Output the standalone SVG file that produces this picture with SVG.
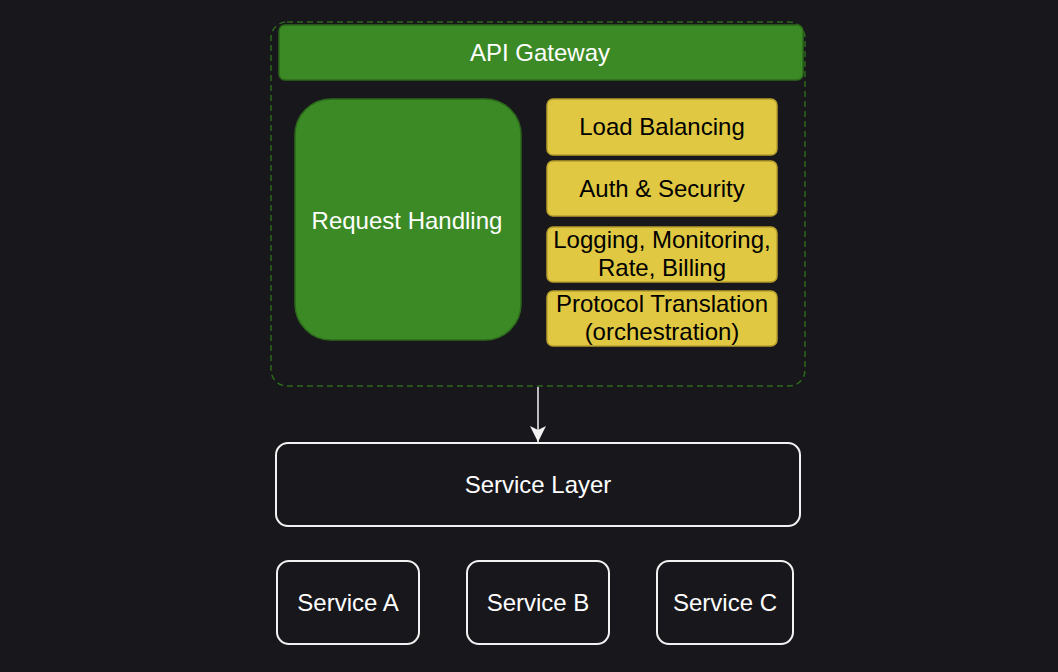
<svg xmlns="http://www.w3.org/2000/svg" width="1058" height="672" viewBox="0 0 1058 672">
<defs>
<style>
.t{font-family:"Liberation Sans",Arial,sans-serif;font-size:24px;text-anchor:middle}
.w{fill:#ffffff}
.k{fill:#000000}
.green{fill:#3c8a25;stroke:#2c6a1b;stroke-width:1.5}
.yel{fill:#e0c843;stroke:#b89e2c;stroke-width:1.5}
.box{fill:none;stroke:#f2f2f2;stroke-width:2}
</style>
<marker id="arr" markerWidth="20" markerHeight="20" viewBox="0 0 20 20" refX="18" refY="10" orient="auto" markerUnits="userSpaceOnUse">
<path d="M2,2 L6,10 L2,18 L18,10 Z" fill="#f2f2f2"/>
</marker>
</defs>
<rect width="1058" height="672" fill="#18171c"/>
<g id="gateway-container">
<rect x="271" y="22" width="534" height="364" rx="16" fill="none" stroke="#2c6a1b" stroke-width="1.5" stroke-dasharray="6 4"/>
</g>
<g id="api-gateway">
<rect class="green" x="279" y="25" width="524" height="55" rx="6"/>
<text class="t w" x="540" y="61">API Gateway</text>
</g>
<g id="request-handling">
<rect class="green" x="295" y="99" width="226" height="241" rx="36"/>
<text class="t w" x="407" y="229">Request Handling</text>
</g>
<g id="load-balancing">
<rect class="yel" x="547" y="99" width="230" height="56" rx="6"/>
<text class="t k" x="662" y="135">Load Balancing</text>
</g>
<g id="auth-security">
<rect class="yel" x="547" y="161" width="230" height="55" rx="6"/>
<text class="t k" x="662" y="197">Auth &amp; Security</text>
</g>
<g id="logging">
<rect class="yel" x="547" y="227" width="230" height="55" rx="6"/>
<text class="t k" x="662" y="248">Logging, Monitoring,</text>
<text class="t k" x="662" y="276">Rate, Billing</text>
</g>
<g id="protocol">
<rect class="yel" x="547" y="291" width="230" height="55" rx="6"/>
<text class="t k" x="662" y="312">Protocol Translation</text>
<text class="t k" x="662" y="340">(orchestration)</text>
</g>
<g id="connectors">
<line x1="538" y1="387" x2="538" y2="442" stroke="#f2f2f2" stroke-width="1.5" marker-end="url(#arr)"/>
</g>
<g id="service-layer">
<rect class="box" x="276" y="443" width="524" height="83" rx="12"/>
<text class="t w" x="538" y="493">Service Layer</text>
</g>
<g id="service-a">
<rect class="box" x="277" y="561" width="142" height="83" rx="12"/>
<text class="t w" x="348" y="611">Service A</text>
</g>
<g id="service-b">
<rect class="box" x="467" y="561" width="142" height="83" rx="12"/>
<text class="t w" x="538" y="611">Service B</text>
</g>
<g id="service-c">
<rect class="box" x="657" y="561" width="136" height="83" rx="12"/>
<text class="t w" x="725" y="611">Service C</text>
</g>
</svg>
